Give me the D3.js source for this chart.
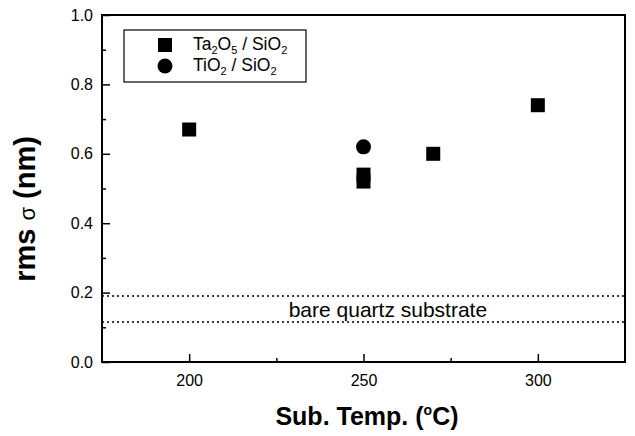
<!DOCTYPE html>
<html lang="en">
<head>
<meta charset="UTF-8">
<title>rms roughness vs substrate temperature</title>
<script src="https://d3js.org/d3.v7.min.js"></script>
<style>
  body { margin: 0; background: #fff; }
  text { font-family: "Liberation Sans", Arial, sans-serif; fill: #000; }
</style>
</head>
<body>
<div id="chart"></div>
<script>
// Ta2O5 / SiO2 samples (squares)
const taTemps = [200, 250, 250, 270, 300];
const taRms = [0.67, 0.54, 0.52, 0.60, 0.74];
// TiO2 / SiO2 sample (circle)
const tiTemps = [250];
const tiRms = [0.62];
// bare quartz substrate band (dotted lines)
const bareLevels = [0.19, 0.115];

const xTicks = [200, 250, 300];
const yTicks = [0.0, 0.2, 0.4, 0.6, 0.8, 1.0];

const W = 635, H = 436;
const margin = { top: 15, right: 10, bottom: 74, left: 102 };
const width = W - margin.left - margin.right;
const height = H - margin.top - margin.bottom;

const x = d3.scaleLinear().domain([175, 325]).range([0, width]);
const y = d3.scaleLinear().domain([0, 1.0]).range([height, 0]);

const svg = d3.select("#chart").append("svg")
    .attr("width", W).attr("height", H);
const g = svg.append("g")
    .attr("transform", "translate(" + margin.left + "," + margin.top + ")");

// frame
g.append("rect")
    .attr("width", width).attr("height", height)
    .attr("fill", "none").attr("stroke", "#000").attr("stroke-width", 2);

// axes, ticks pointing inwards
const xAxis = g.append("g")
    .attr("transform", "translate(0," + height + ")")
    .call(d3.axisBottom(x).tickValues(xTicks).tickSize(-8).tickPadding(13).tickFormat(d3.format("d")));
const xMinor = g.append("g")
    .attr("transform", "translate(0," + height + ")")
    .call(d3.axisBottom(x).tickValues([225, 275]).tickSize(-4).tickFormat(""));
const yAxis = g.append("g")
    .call(d3.axisLeft(y).tickValues(yTicks).tickSize(-8).tickPadding(9).tickFormat(d3.format(".1f")));
const yMinor = g.append("g")
    .call(d3.axisLeft(y).tickValues([0.1, 0.3, 0.5, 0.7, 0.9]).tickSize(-4).tickFormat(""));

[xAxis, xMinor, yAxis, yMinor].forEach(a => {
    a.attr("font-size", 16);
    a.select(".domain").remove();
    a.selectAll("line").attr("stroke", "#000").attr("stroke-width", 1.5);
    a.selectAll("text").attr("fill", "#000")
        .style("font-family", "'Liberation Sans', Arial, sans-serif");
});

// bare quartz dotted lines
g.selectAll(".bare").data(bareLevels).enter().append("line")
    .attr("x1", 0).attr("x2", width)
    .attr("y1", d => y(d)).attr("y2", d => y(d))
    .attr("stroke", "#000").attr("stroke-width", 1.5)
    .attr("stroke-dasharray", "2,3");

g.append("text")
    .attr("x", x(257)).attr("y", y(0.129))
    .attr("text-anchor", "middle").attr("font-size", 21)
    .text("bare quartz substrate");

// data markers
const sq = 14;
const taData = taTemps.map((t, i) => ({ t: t, v: taRms[i] }));
const tiData = tiTemps.map((t, i) => ({ t: t, v: tiRms[i] }));

g.selectAll(".ta").data(taData).enter().append("rect")
    .attr("x", d => x(d.t) - sq / 2).attr("y", d => y(d.v) - sq / 2)
    .attr("width", sq).attr("height", sq).attr("fill", "#000");

g.selectAll(".ti").data(tiData).enter().append("circle")
    .attr("cx", d => x(d.t)).attr("cy", d => y(d.v))
    .attr("r", 7.5).attr("fill", "#000");

// legend
const lg = svg.append("g").attr("transform", "translate(124,30)");
lg.append("rect").attr("width", 182).attr("height", 52)
    .attr("fill", "#fff").attr("stroke", "#000").attr("stroke-width", 1.2);
lg.append("rect").attr("x", 41 - sq / 2).attr("y", 15 - sq / 2)
    .attr("width", sq).attr("height", sq).attr("fill", "#000");
lg.append("circle").attr("cx", 41).attr("cy", 36).attr("r", 7.5).attr("fill", "#000");

const l1 = lg.append("text").attr("x", 69).attr("y", 20).attr("font-size", 17.5);
l1.append("tspan").text("Ta");
l1.append("tspan").attr("font-size", 11).attr("dy", 4).text("2");
l1.append("tspan").attr("dy", -4).text("O");
l1.append("tspan").attr("font-size", 11).attr("dy", 4).text("5");
l1.append("tspan").attr("dy", -4).text(" / SiO");
l1.append("tspan").attr("font-size", 11).attr("dy", 4).text("2");

const l2 = lg.append("text").attr("x", 69).attr("y", 41).attr("font-size", 17.5);
l2.append("tspan").text("TiO");
l2.append("tspan").attr("font-size", 11).attr("dy", 4).text("2");
l2.append("tspan").attr("dy", -4).text(" / SiO");
l2.append("tspan").attr("font-size", 11).attr("dy", 4).text("2");

// axis titles
const xt = svg.append("text")
    .attr("x", margin.left + x(251)).attr("y", 425)
    .attr("text-anchor", "middle").attr("font-size", 25).attr("font-weight", "bold");
xt.append("tspan").text("Sub. Temp. (");
xt.append("tspan").attr("font-size", 14).attr("dy", -10).text("o");
xt.append("tspan").attr("dy", 10).text("C)");

const yt = svg.append("text")
    .attr("transform", "translate(35," + 209 + ") rotate(-90)")
    .attr("text-anchor", "middle").attr("font-size", 29).attr("font-weight", "bold");
yt.append("tspan").text("rms ");
yt.append("tspan").attr("font-weight", "normal").attr("font-size", 22).text("σ");
yt.append("tspan").text(" (nm)");
</script>
</body>
</html>
